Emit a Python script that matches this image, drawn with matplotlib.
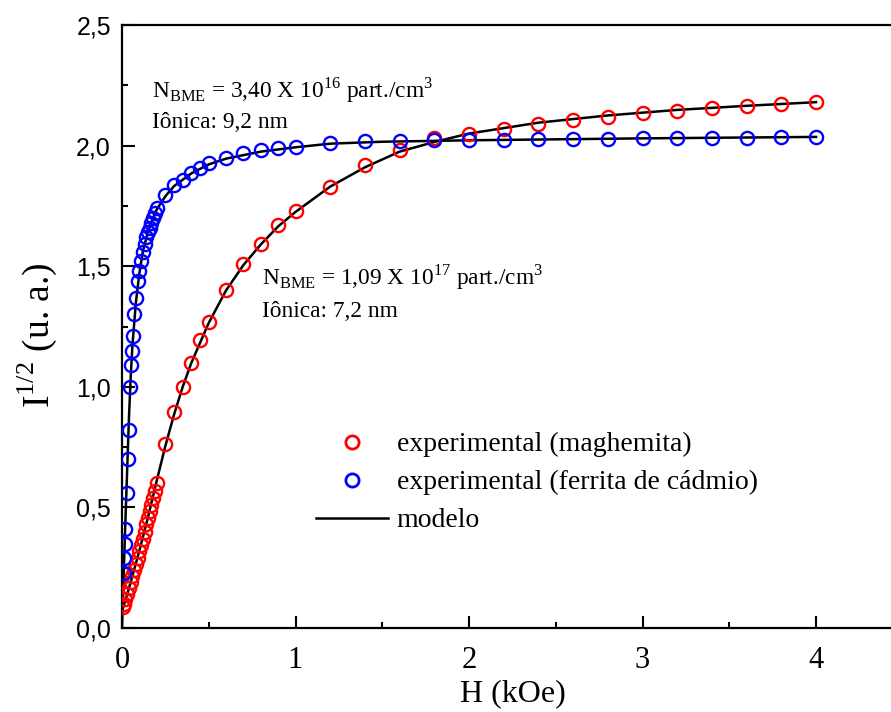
import matplotlib
matplotlib.use('Agg')
import matplotlib.pyplot as plt
from matplotlib.ticker import MultipleLocator

plt.rcParams['font.family'] = 'Liberation Serif'
plt.rcParams['mathtext.fontset'] = 'custom'
plt.rcParams['mathtext.rm'] = 'Liberation Serif'

# experimental data: maghemita (red)
mag_h = [0.005, 0.01, 0.02, 0.03, 0.04, 0.05, 0.06, 0.07, 0.08, 0.09, 0.10,
         0.11, 0.12, 0.13, 0.14, 0.15, 0.16, 0.17, 0.18, 0.19, 0.20,
         0.25, 0.30, 0.35, 0.40, 0.45, 0.50, 0.60, 0.70, 0.80, 0.90, 1.0,
         1.2, 1.4, 1.6, 1.8, 2.0, 2.2, 2.4, 2.6, 2.8, 3.0, 3.2, 3.4, 3.6, 3.8, 4.0]
mag_y = [0.085, 0.10, 0.12, 0.14, 0.165, 0.19, 0.215, 0.24, 0.265, 0.29, 0.32,
         0.345, 0.37, 0.40, 0.43, 0.455, 0.485, 0.51, 0.54, 0.57, 0.60,
         0.763, 0.895, 1.00, 1.10, 1.195, 1.27, 1.40, 1.51, 1.59, 1.67, 1.73,
         1.83, 1.92, 1.98, 2.03, 2.05, 2.07, 2.09, 2.106, 2.12, 2.135, 2.145,
         2.155, 2.164, 2.172, 2.18]

# experimental data: ferrita de cadmio (blue)
cd_h = [0.010, 0.013, 0.016, 0.019, 0.026, 0.032, 0.038, 0.047, 0.053, 0.058,
        0.063, 0.072, 0.080, 0.090, 0.10, 0.11, 0.12, 0.13, 0.14, 0.15, 0.16,
        0.17, 0.18, 0.19, 0.20, 0.25, 0.30, 0.35, 0.40, 0.45, 0.50, 0.60, 0.70,
        0.80, 0.90, 1.0, 1.2, 1.4, 1.6, 1.8, 2.0, 2.2, 2.4, 2.6, 2.8, 3.0, 3.2,
        3.4, 3.6, 3.8, 4.0]
cd_y = [0.23, 0.29, 0.35, 0.41, 0.56, 0.70, 0.82, 1.00, 1.09, 1.15,
        1.21, 1.30, 1.37, 1.44, 1.48, 1.52, 1.56, 1.59, 1.62, 1.64, 1.66,
        1.68, 1.70, 1.72, 1.74, 1.795, 1.837, 1.857, 1.886, 1.907, 1.928, 1.95,
        1.97, 1.98, 1.99, 1.995, 2.012, 2.018, 2.02, 2.023, 2.023, 2.025, 2.026,
        2.027, 2.028, 2.030, 2.031, 2.032, 2.033, 2.035, 2.036]

# model curves
mod_mag_h = [0.0, 0.02, 0.05, 0.10, 0.15, 0.20, 0.25, 0.30, 0.35, 0.40, 0.50,
             0.60, 0.70, 0.80, 0.90, 1.0, 1.2, 1.4, 1.6, 1.8, 2.0, 2.4, 2.8,
             3.2, 3.6, 4.0]
mod_mag_y = [0.07, 0.115, 0.19, 0.32, 0.46, 0.61, 0.755, 0.885, 1.0, 1.10, 1.265,
             1.40, 1.505, 1.59, 1.665, 1.725, 1.83, 1.91, 1.975, 2.015, 2.05,
             2.095, 2.125, 2.148, 2.165, 2.18]
mod_cd_h = [0.0, 0.005, 0.01, 0.02, 0.03, 0.04, 0.05, 0.06, 0.08, 0.10, 0.12,
            0.15, 0.20, 0.25, 0.30, 0.40, 0.50, 0.60, 0.80, 1.0, 1.2, 1.5, 2.0,
            2.5, 3.0, 3.5, 4.0]
mod_cd_y = [0.0, 0.11, 0.23, 0.45, 0.66, 0.87, 1.04, 1.17, 1.35, 1.47, 1.56,
            1.645, 1.735, 1.79, 1.832, 1.885, 1.922, 1.946, 1.975, 1.993, 2.008,
            2.016, 2.022, 2.026, 2.03, 2.033, 2.036]

x_ticks = [0, 1, 2, 3, 4]
x_labels = ['0', '1', '2', '3', '4']
y_ticks = [0.0, 0.5, 1.0, 1.5, 2.0, 2.5]
y_labels = ['0,0', '0,5', '1,0', '1,5', '2,0', '2,5']

fig = plt.figure(figsize=(8.91, 7.12), dpi=100)
# axes runs off the right edge like the original crop
ax = fig.add_axes([122 / 891, 84 / 712, 4.5 * 173.5 / 891, 603 / 712])

ax.plot(mod_mag_h, mod_mag_y, color='black', lw=1.8, zorder=2)
ax.plot(mod_cd_h, mod_cd_y, color='black', lw=1.8, zorder=2)
ax.plot(mag_h, mag_y, 'o', mfc='none', mec='#ff0000', mew=1.7, ms=9.5, zorder=3)
ax.plot(cd_h, cd_y, 'o', mfc='none', mec='#0000ff', mew=1.7, ms=9.5, zorder=3)

# legend handles
h1, = ax.plot([], [], 'o', mfc='none', mec='#ff0000', mew=2, ms=9.5)
h2, = ax.plot([], [], 'o', mfc='none', mec='#0000ff', mew=2, ms=9.5)
h3, = ax.plot([], [], color='black', lw=1.8)
ax.legend([h1, h2, h3],
          ['experimental (maghemita)', 'experimental (ferrita de cádmio)', 'modelo'],
          loc='upper left', bbox_to_anchor=(0.2485, 0.325), frameon=False,
          fontsize=20, handlelength=2.6, handletextpad=0.3, labelspacing=0.45,
          borderpad=0, borderaxespad=0)

ax.text(0.173, 2.201, r'N$_{\mathregular{BME}}$ = 3,40 X 10$^{\mathregular{16}}$ part./cm$^{\mathregular{3}}$',
        fontsize=16.8, va='baseline')
ax.text(0.173, 2.073, 'Iônica: 9,2 nm', fontsize=16.8, va='baseline')
ax.text(0.807, 1.426, r'N$_{\mathregular{BME}}$ = 1,09 X 10$^{\mathregular{17}}$ part./cm$^{\mathregular{3}}$',
        fontsize=16.8, va='baseline')
ax.text(0.807, 1.289, 'Iônica: 7,2 nm', fontsize=16.8, va='baseline')

ax.set_xlim(0, 4.5)
ax.set_ylim(0, 2.5)
ax.set_xticks(x_ticks)
ax.set_xticklabels(x_labels, fontsize=22, family='Liberation Serif')
ax.set_yticks(y_ticks)
ax.set_yticklabels(y_labels, fontsize=18, family='Liberation Sans')
ax.xaxis.set_minor_locator(MultipleLocator(0.5))
ax.yaxis.set_minor_locator(MultipleLocator(0.25))
ax.tick_params(which='major', direction='in', length=9, width=1.5)
ax.tick_params(which='minor', direction='in', length=4.5, width=1.5)
ax.tick_params(axis='x', which='major', pad=13)
ax.tick_params(axis='y', which='major', pad=8)
for s in ax.spines.values():
    s.set_linewidth(1.6)

ax.set_xlabel('H (kOe)', fontsize=23, labelpad=3)
ax.set_ylabel(r'I$^{\mathregular{1/2}}$ (u. a.)', fontsize=27)
ax.yaxis.set_label_coords(-0.081, 0.486)

fig.savefig('out.png', dpi=100)
